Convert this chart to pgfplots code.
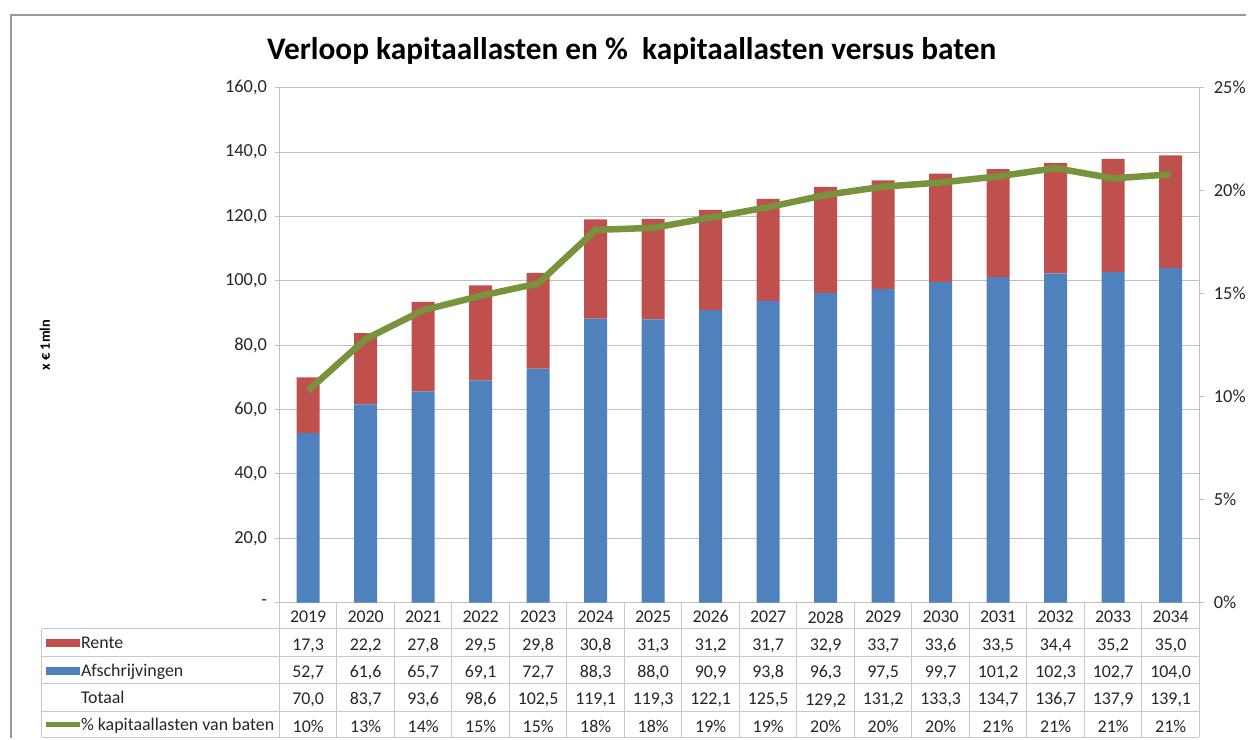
\documentclass[border=0pt]{standalone}
\usepackage{fontspec}
\setmainfont{Carlito}
\usepackage{pgfplots}
\pgfplotsset{compat=1.18}
\definecolor{rente}{HTML}{C0504D}
\definecolor{afs}{HTML}{4F81BD}
\definecolor{pct}{HTML}{77933C}
\definecolor{gridc}{HTML}{BFBFBF}
\definecolor{tabc}{HTML}{C8C8C8}
\definecolor{txt}{HTML}{262626}
\newcommand{\R}{\rule[-3bp]{0pt}{15bp}}
\begin{document}
\begin{tikzpicture}[x=1bp,y=1bp]
\path (0,0) rectangle (1249,740);
\draw[gray!80, line width=1.5bp] (11,0) -- (11,725) -- (1249,725);
\node[font=\fontsize{31.5}{36}\selectfont\bfseries, anchor=base] at (633,740-60) {Verloop kapitaallasten en \%\ \ kapitaallasten versus baten};
\node[rotate=90, font=\fontsize{14.5}{17}\selectfont\bfseries] at (45,740-346) {x € 1mln};
\begin{axis}[
  at={(280bp,136bp)}, anchor=south west, scale only axis,
  width=922bp, height=516bp,
  ybar stacked, bar width=23bp,
  xmin=-0.5, xmax=15.5, ymin=0, ymax=160,
  axis x line*=bottom, axis y line*=left,
  axis line style={gridc, line width=1bp},
  ymajorgrids, grid style={gridc, line width=1bp},
  ytick={0,20,...,160},
  yticklabels={-,{20,0},{40,0},{60,0},{80,0},{100,0},{120,0},{140,0},{160,0}},
  yticklabel style={font=\fontsize{18.5}{21}\selectfont, text=txt, xshift=-5bp},
  tick align=outside, major tick length=4bp,
  ytick style={gridc, line width=1bp},
  xtick={0,...,15}, xtick style={draw=none},
  xticklabels={
    {\R2019\\\R17{,}3\\\R52{,}7\\\R70{,}0\\\R10\%},
    {\R2020\\\R22{,}2\\\R61{,}6\\\R83{,}7\\\R13\%},
    {\R2021\\\R27{,}8\\\R65{,}7\\\R93{,}6\\\R14\%},
    {\R2022\\\R29{,}5\\\R69{,}1\\\R98{,}6\\\R15\%},
    {\R2023\\\R29{,}8\\\R72{,}7\\\R102{,}5\\\R15\%},
    {\R2024\\\R30{,}8\\\R88{,}3\\\R119{,}1\\\R18\%},
    {\R2025\\\R31{,}3\\\R88{,}0\\\R119{,}3\\\R18\%},
    {\R2026\\\R31{,}2\\\R90{,}9\\\R122{,}1\\\R19\%},
    {\R2027\\\R31{,}7\\\R93{,}8\\\R125{,}5\\\R19\%},
    {\R2028\\\R32{,}9\\\R96{,}3\\\R129{,}2\\\R20\%},
    {\R2029\\\R33{,}7\\\R97{,}5\\\R131{,}2\\\R20\%},
    {\R2030\\\R33{,}6\\\R99{,}7\\\R133{,}3\\\R20\%},
    {\R2031\\\R33{,}5\\\R101{,}2\\\R134{,}7\\\R21\%},
    {\R2032\\\R34{,}4\\\R102{,}3\\\R136{,}7\\\R21\%},
    {\R2033\\\R35{,}2\\\R102{,}7\\\R137{,}9\\\R21\%},
    {\R2034\\\R35{,}0\\\R104{,}0\\\R139{,}1\\\R21\%}},
  xticklabel style={font=\fontsize{18}{27.5}\selectfont, text=txt, align=center, anchor=north, inner sep=0pt, yshift=-4bp},
  clip=false,
]
\addplot[fill=afs, draw=none] coordinates {(0,52.7)(1,61.6)(2,65.7)(3,69.1)(4,72.7)(5,88.3)(6,88.0)(7,90.9)(8,93.8)(9,96.3)(10,97.5)(11,99.7)(12,101.2)(13,102.3)(14,102.7)(15,104.0)};
\addplot[fill=rente, draw=none] coordinates {(0,17.3)(1,22.2)(2,27.8)(3,29.5)(4,29.8)(5,30.8)(6,31.3)(7,31.2)(8,31.7)(9,32.9)(10,33.7)(11,33.6)(12,33.5)(13,34.4)(14,35.2)(15,35.0)};
\end{axis}
\begin{axis}[
  at={(280bp,136bp)}, anchor=south west, scale only axis,
  width=922bp, height=516bp,
  xmin=-0.5, xmax=15.5, ymin=0, ymax=0.25,
  axis x line=none, axis y line*=right,
  axis line style={gridc, line width=1bp},
  ytick={0,0.05,0.10,0.15,0.20,0.25},
  yticklabels={0\%,5\%,10\%,15\%,20\%,25\%},
  yticklabel style={font=\fontsize{18.5}{21}\selectfont, text=txt, anchor=west, xshift=6bp},
  tick align=outside, major tick length=5bp,
  ytick style={gridc, line width=1bp},
  clip=false,
]
\addplot[pct, line width=6.5bp, line join=round] coordinates {(0,0.103)(1,0.128)(2,0.142)(3,0.149)(4,0.155)(5,0.181)(6,0.182)(7,0.187)(8,0.192)(9,0.198)(10,0.202)(11,0.204)(12,0.207)(13,0.211)(14,0.206)(15,0.208)};
\end{axis}
% data table grid
\foreach \yy in {110,82,55,27,1} \draw[tabc, line width=1bp] (42,\yy) -- (1202,\yy);
\draw[tabc, line width=1bp] (42,1) -- (42,110);
\foreach \k in {0,...,16} \draw[tabc, line width=1bp] ({280+57.625*\k},1) -- ({280+57.625*\k},136);
% legend keys and row labels
\fill[rente] (46,92) rectangle (80,100);
\fill[afs] (46,64) rectangle (80,72);
\draw[pct, line width=5bp] (46,14) -- (80,14);
\begin{scope}[every node/.style={font=\fontsize{18}{21}\selectfont, text=txt, anchor=base west, inner sep=0pt}]
\node at (81,90) {Rente};
\node at (81,62.5) {Afschrijvingen};
\node at (81,35) {Totaal};
\node at (81,7.5) {\% kapitaallasten van baten};
\end{scope}
\end{tikzpicture}
\end{document}
